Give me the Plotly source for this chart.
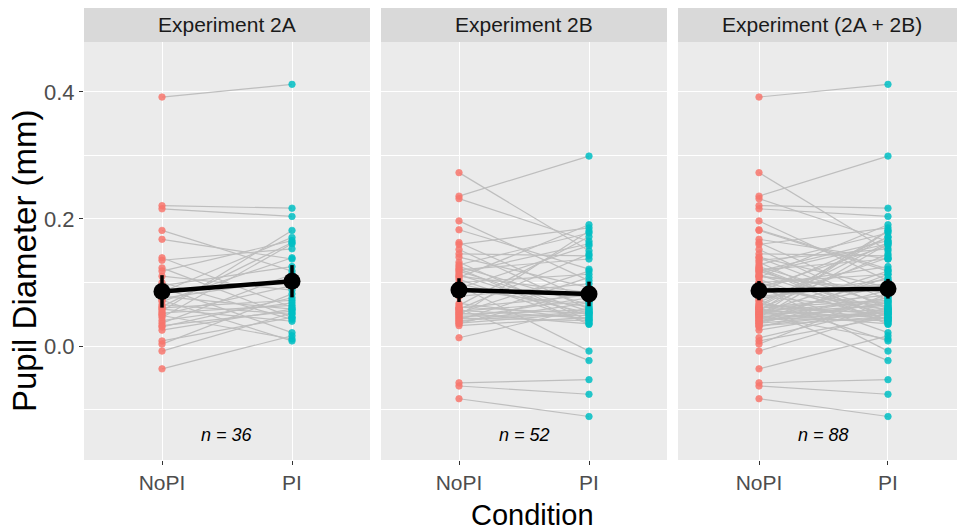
import numpy as np
import plotly.graph_objects as go

# ---------------- data ----------------
panels = ["Experiment 2A", "Experiment 2B", "Experiment (2A + 2B)"]
conditions = ["NoPI", "PI"]
y_ticks = [0.0, 0.2, 0.4]
y_tick_labels = ["0.0", "0.2", "0.4"]

exp2a_nopi = [0.392, 0.221, 0.216, 0.182, 0.168, 0.139, 0.135, 0.123, 0.118, 0.110,
              0.100, 0.095, 0.092, 0.085, 0.078, 0.075, 0.072, 0.070, 0.065, 0.062,
              0.060, 0.058, 0.055, 0.052, 0.050, 0.048, 0.045, 0.040, 0.036, 0.032,
              0.030, 0.025, 0.008, 0.003, -0.008, -0.036]
exp2a_pi = [0.412, 0.217, 0.204, 0.118, 0.137, 0.061, 0.153, 0.045, 0.166, 0.088,
            0.042, 0.125, 0.021, 0.171, 0.058, 0.105, 0.008, 0.139, 0.050, 0.163,
            0.072, 0.039, 0.182, 0.064, 0.095, 0.011, 0.161, 0.068, 0.113, 0.055,
            0.076, 0.058, 0.045, 0.082, 0.052, 0.016]

exp2b_nopi = [0.273, 0.236, 0.232, 0.197, 0.183, 0.163, 0.160, 0.152, 0.145, 0.140,
              0.132, 0.128, 0.125, 0.122, 0.120, 0.118, 0.115, 0.112, 0.110, 0.108,
              0.105, 0.100, 0.098, 0.095, 0.091, 0.090, 0.078, 0.067, 0.064, 0.061,
              0.060, 0.059, 0.058, 0.056, 0.055, 0.052, 0.052, 0.050, 0.048, 0.047,
              0.044, 0.044, 0.041, 0.040, 0.038, 0.036, 0.035, 0.032, 0.013,
              -0.058, -0.063, -0.083]
exp2b_pi = [0.150, 0.299, 0.165, 0.103, 0.121, 0.072, 0.186, 0.058, 0.142, 0.092,
            0.040, 0.178, 0.065, 0.034, 0.137, 0.055, 0.161, 0.048, 0.084, 0.191,
            0.037, 0.113, 0.052, -0.008, 0.158, 0.062, 0.098, 0.042, 0.172, 0.051,
            0.080, -0.023, 0.145, 0.044, 0.070, 0.035, 0.118, 0.057, 0.181, 0.048,
            0.076, 0.040, 0.108, 0.054, 0.068, 0.052, 0.088, 0.045, 0.060,
            -0.053, -0.076, -0.111]

panel_data = [
    (exp2a_nopi, exp2a_pi),
    (exp2b_nopi, exp2b_pi),
    (exp2a_nopi + exp2b_nopi, exp2a_pi + exp2b_pi),
]

# ---------------- layout geometry ----------------
W, H = 957, 532
px = lambda v: v / W
py = lambda v: 1 - v / H
x_domains = [(px(84), px(370)), (px(381), px(667)), (px(678), 1.0)]
x_ranges = [[0.4, 2.6], [0.4, 2.6], [0.372, 2.535]]
y_domain = [py(460), py(42)]
y_range = [-0.1795, 0.4787]

RED = "#F8766D"
TEAL = "#00BFC4"
FONT = "Liberation Sans, Arial, sans-serif"

fig = go.Figure()
layout = dict(
    width=W, height=H,
    margin=dict(l=0, r=0, t=0, b=0),
    paper_bgcolor="white", plot_bgcolor="#EBEBEB",
    showlegend=False, font=dict(family=FONT),
)

shapes = []
annotations = []
for i, (nopi, pi) in enumerate(panel_data):
    xa = "x" if i == 0 else f"x{i+1}"
    ya = "y" if i == 0 else f"y{i+1}"
    # paired grey lines
    lx, ly = [], []
    for a, b in zip(nopi, pi):
        lx += [1, 2, None]
        ly += [a, b, None]
    fig.add_trace(go.Scatter(x=lx, y=ly, mode="lines", xaxis=xa, yaxis=ya,
                             line=dict(color="#BEBEBE", width=1.2), hoverinfo="skip"))
    fig.add_trace(go.Scatter(x=[1] * len(nopi), y=nopi, mode="markers", xaxis=xa, yaxis=ya,
                             marker=dict(color=RED, size=6.5, opacity=0.85,
                                         line=dict(color=RED, width=0.8))))
    fig.add_trace(go.Scatter(x=[2] * len(pi), y=pi, mode="markers", xaxis=xa, yaxis=ya,
                             marker=dict(color=TEAL, size=6.5, opacity=0.85,
                                         line=dict(color=TEAL, width=0.8))))
    means, cis = [], []
    for arr in (nopi, pi):
        a = np.array(arr)
        means.append(a.mean())
        cis.append(1.96 * a.std(ddof=1) / np.sqrt(len(a)))
    fig.add_trace(go.Scatter(x=[1, 2], y=means, mode="lines+markers", xaxis=xa, yaxis=ya,
                             line=dict(color="black", width=4.5),
                             marker=dict(color="black", size=17),
                             error_y=dict(type="data", array=cis, color="black",
                                          thickness=3.5, width=0)))

    xkey = "xaxis" if i == 0 else f"xaxis{i+1}"
    ykey = "yaxis" if i == 0 else f"yaxis{i+1}"
    layout[xkey] = dict(
        domain=list(x_domains[i]), range=x_ranges[i], anchor=ya,
        tickvals=[1, 2], ticktext=conditions, showgrid=True, gridcolor="white",
        gridwidth=1.2, zeroline=False, ticks="outside", ticklen=4, tickcolor="#333333",
        tickfont=dict(size=21, color="#4D4D4D", family=FONT), showline=False,
    )
    layout[ykey] = dict(
        domain=y_domain, range=y_range, anchor=xa,
        tickvals=y_ticks, ticktext=y_tick_labels, showgrid=True, gridcolor="white",
        gridwidth=1.2, zeroline=False, showline=False,
        minor=dict(tickvals=[-0.1, 0.1, 0.3], showgrid=True, gridcolor="white",
                   gridwidth=0.6, ticklen=0),
        ticks="outside" if i == 0 else "", ticklen=4, tickcolor="#333333",
        showticklabels=(i == 0),
        tickfont=dict(size=22, color="#4D4D4D", family=FONT),
    )
    # strip
    shapes.append(dict(type="rect", xref="paper", yref="paper",
                       x0=x_domains[i][0], x1=x_domains[i][1], y0=py(42), y1=py(8),
                       fillcolor="#D9D9D9", line=dict(width=0), layer="below"))
    annotations.append(dict(text=panels[i], xref="paper", yref="paper",
                            x=(x_domains[i][0] + x_domains[i][1]) / 2 if i < 2 else px((678 + 966) / 2),
                            y=py(25), showarrow=False,
                            font=dict(size=21, color="#1A1A1A", family=FONT),
                            xanchor="center", yanchor="middle"))
    annotations.append(dict(text=f"<i>n = {len(nopi)}</i>", xref=xa, yref=ya,
                            x=1.5, y=-0.14, showarrow=False,
                            font=dict(size=18, color="black", family=FONT)))

annotations.append(dict(text="Pupil Diameter (mm)", xref="paper", yref="paper",
                        x=px(24), y=py(261), textangle=-90, showarrow=False,
                        font=dict(size=33, color="black", family=FONT),
                        xanchor="center", yanchor="middle"))
annotations.append(dict(text="Condition", xref="paper", yref="paper",
                        x=px(532), y=py(515), showarrow=False,
                        font=dict(size=29, color="black", family=FONT),
                        xanchor="center", yanchor="middle"))

layout["shapes"] = shapes
layout["annotations"] = annotations
fig.update_layout(**layout)
fig.write_html("out.html", config={"displayModeBar": False},
               post_script="document.body.style.margin='0';document.body.style.overflow='hidden';")
